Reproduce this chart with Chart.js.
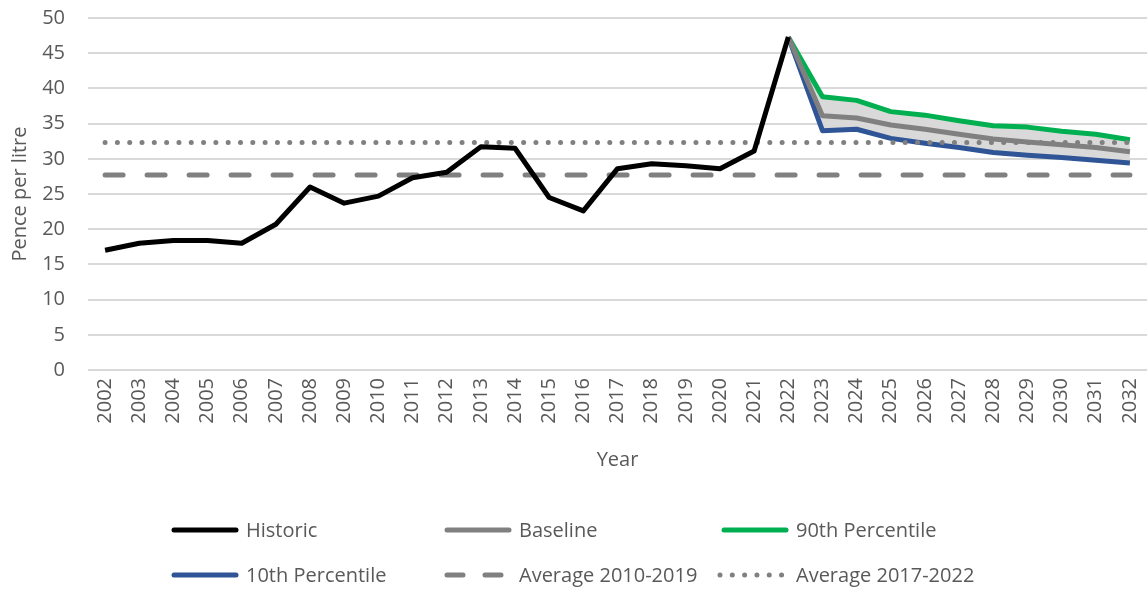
<!DOCTYPE html>
<html>
<head>
<meta charset="utf-8">
<script src="https://cdn.jsdelivr.net/npm/chart.js@4/dist/chart.umd.min.js"></script>
<style>
  body { margin: 0; background: #fff; }
  #wrap { position: relative; width: 1147px; height: 590px; }
  .leg { position: absolute; display: flex; align-items: center; font-family: "Open Sans", sans-serif; font-size: 20px; color: #595959; white-space: nowrap; }
  .leg svg { margin-right: 6px; }
</style>
</head>
<body>
<div id="wrap">
  <canvas id="chart_1" width="1147" height="590"></canvas>
  <div id="legenda"></div>
</div>
<script>
// Dados
const anos = ['2002','2003','2004','2005','2006','2007','2008','2009','2010','2011','2012','2013','2014','2015','2016','2017','2018','2019','2020','2021','2022','2023','2024','2025','2026','2027','2028','2029','2030','2031','2032'];
const historico = [17.0, 18.0, 18.4, 18.4, 18.0, 20.7, 26.0, 23.7, 24.7, 27.3, 28.1, 31.7, 31.5, 24.5, 22.6, 28.6, 29.3, 29.0, 28.6, 31.1, 47.3];
const baseline = [47.3, 36.1, 35.8, 34.8, 34.2, 33.5, 32.8, 32.4, 32.0, 31.6, 31.0];
const p90 = [47.3, 38.8, 38.3, 36.7, 36.2, 35.4, 34.7, 34.5, 33.9, 33.5, 32.7];
const p10 = [47.3, 34.0, 34.2, 32.9, 32.2, 31.6, 30.9, 30.5, 30.2, 29.8, 29.4];
const media2010_2019 = 27.7;
const media2017_2022 = 32.3;
const yTicks = [0, 5, 10, 15, 20, 25, 30, 35, 40, 45, 50];

// preenche com null os anos sem valor
function historicoSerie() {
    return anos.map((a, i) => i < historico.length ? historico[i] : null);
}
function previsao(valores) {
    var inicio = anos.length - valores.length;
    return anos.map((a, i) => i >= inicio ? valores[i - inicio] : null);
}

const fonte = "'Open Sans', sans-serif";
const cinzaTexto = '#595959';

const ctx = document.getElementById('chart_1').getContext('2d');
const chart1 = new Chart(ctx, {
    type: 'line',
    data: {
        labels: anos,
        datasets: [
            {
                label: 'Historic',
                data: historicoSerie(),
                borderColor: '#000000',
                borderWidth: 5,
                order: 0
            },
            {
                label: 'Baseline',
                data: previsao(baseline),
                borderColor: '#808080',
                borderWidth: 5,
                order: 2
            },
            {
                label: '90th Percentile',
                data: previsao(p90),
                borderColor: '#00b050',
                borderWidth: 5,
                fill: { target: 3 },
                backgroundColor: '#d9d9d9',
                order: 4
            },
            {
                label: '10th Percentile',
                data: previsao(p10),
                borderColor: '#2f5597',
                borderWidth: 5,
                order: 3
            },
            {
                label: 'Average 2010-2019',
                data: anos.map(() => media2010_2019),
                borderColor: '#808080',
                borderWidth: 5,
                borderDash: [18, 24],
                borderCapStyle: 'round',
                order: 6
            },
            {
                label: 'Average 2017-2022',
                data: anos.map(() => media2017_2022),
                borderColor: '#808080',
                borderWidth: 5,
                borderDash: [0.01, 12.3],
                borderCapStyle: 'round',
                order: 1
            }
        ]
    },
    options: {
        responsive: false,
        animation: false,
        spanGaps: false,
        elements: {
            point: { radius: 0 },
            line: { tension: 0, borderJoinStyle: 'round' }
        },
        layout: { padding: { top: 18, right: -2, bottom: 118, left: 0 } },
        plugins: {
            legend: { display: false },
            tooltip: { enabled: false },
            filler: { drawTime: 'beforeDatasetsDraw' }
        },
        scales: {
            x: {
                offset: true,
                afterFit: (axis) => {
                    axis.height = 102;
                    axis.paddingLeft = 0;
                    axis.paddingRight = 0;
                },
                grid: { display: false, drawTicks: false },
                border: { display: false },
                ticks: {
                    minRotation: 90,
                    maxRotation: 90,
                    autoSkip: false,
                    padding: 8,
                    color: cinzaTexto,
                    font: { family: fonte, size: 20 }
                },
                title: {
                    display: true,
                    text: 'Year',
                    color: cinzaTexto,
                    font: { family: fonte, size: 20 },
                    padding: { top: 0, bottom: 0 }
                }
            },
            y: {
                min: 0,
                max: 50,
                afterBuildTicks: (axis) => { axis.ticks = yTicks.map(v => ({ value: v })); },
                afterFit: (axis) => {
                    axis.width = 88;
                    axis.paddingTop = 0;
                    axis.paddingBottom = 0;
                },
                grid: { color: '#d9d9d9', lineWidth: 2, drawTicks: false },
                border: { display: false },
                ticks: {
                    padding: 23,
                    color: cinzaTexto,
                    font: { family: fonte, size: 20 }
                },
                title: {
                    display: true,
                    text: 'Pence per litre',
                    color: cinzaTexto,
                    font: { family: fonte, size: 20 },
                    padding: { top: 8, bottom: 0 }
                }
            }
        }
    }
});

// Legenda em duas linhas, três colunas
const posicoes = [[170, 530], [443, 530], [720, 530], [170, 575], [443, 575], [716, 575]];
const legenda = document.getElementById('legenda');
chart1.data.datasets.forEach((ds, i) => {
    var p = posicoes[i];
    var w = i == 5 ? 74 : 70;
    var dash = '';
    if (ds.borderDash) {
        dash = i == 4 ? 'stroke-dasharray="16 22"' : 'stroke-dasharray="0.01 12.3"';
    }
    var item = document.createElement('div');
    item.className = 'leg';
    item.style.left = p[0] + 'px';
    item.style.top = (p[1] - 14) + 'px';
    item.innerHTML = '<svg width="' + w + '" height="10"><line x1="4" y1="5" x2="' + (w - 4) + '" y2="5" stroke="' + ds.borderColor +
        '" stroke-width="' + ds.borderWidth + '" stroke-linecap="round" ' + dash + '/></svg>' + ds.label;
    legenda.appendChild(item);
});
</script>
</body>
</html>
